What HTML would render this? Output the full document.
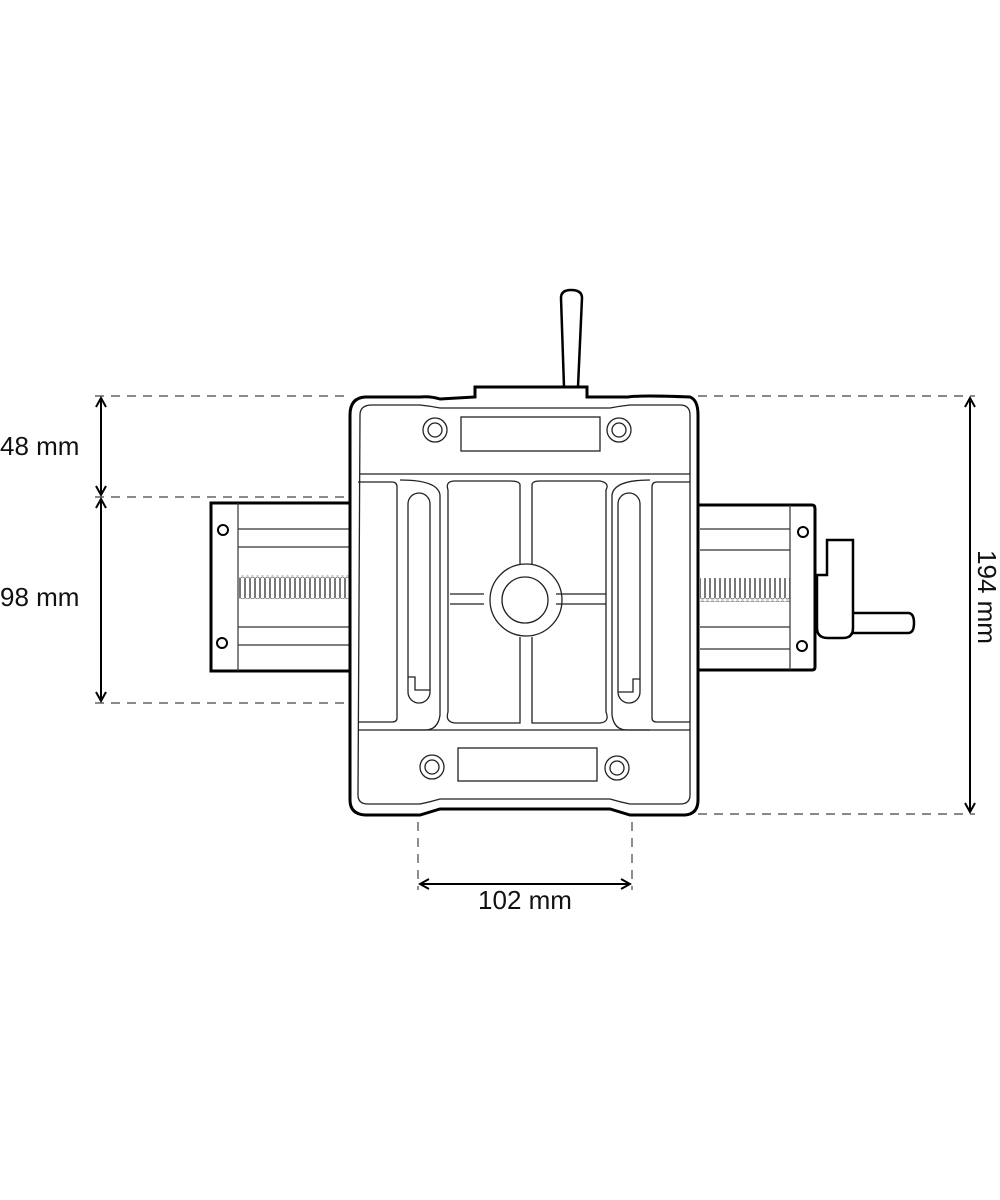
<!DOCTYPE html>
<html><head><style>
html,body{margin:0;padding:0;background:#fff;}
svg{display:block;}
text{font-family:"Liberation Sans",sans-serif;font-size:26px;fill:#111;}
</style></head><body>
<svg width="1000" height="1200" viewBox="0 0 1000 1200" xmlns="http://www.w3.org/2000/svg">
<defs>
<marker id="a" markerWidth="12" markerHeight="12" refX="10" refY="6" orient="auto-start-reverse" markerUnits="userSpaceOnUse">
<path d="M1,1 L10,6 L1,11" fill="none" stroke="#000" stroke-width="2"/>
</marker>
<pattern id="scr" width="5" height="24" patternUnits="userSpaceOnUse">
<rect x="0.5" y="1" width="4" height="22" rx="2" fill="none" stroke="#555" stroke-width="0.8"/>
</pattern>
</defs>
<g fill="none" stroke="#444" stroke-width="1.2" stroke-dasharray="9,7">
<line x1="95" y1="396" x2="350" y2="396"/><line x1="698" y1="396" x2="975" y2="396"/>
<line x1="95" y1="497" x2="420" y2="497"/>
<line x1="95" y1="703" x2="420" y2="703"/>
<line x1="698" y1="814" x2="975" y2="814"/>
<line x1="418" y1="598" x2="418" y2="890"/><line x1="632" y1="598" x2="632" y2="890"/>
</g>
<g stroke="#000" stroke-width="2" fill="none">
<line x1="101" y1="398" x2="101" y2="495" marker-start="url(#a)" marker-end="url(#a)"/>
<line x1="101" y1="499" x2="101" y2="701" marker-start="url(#a)" marker-end="url(#a)"/>
<line x1="970" y1="398" x2="970" y2="812" marker-start="url(#a)" marker-end="url(#a)"/>
<line x1="420" y1="884" x2="630" y2="884" marker-start="url(#a)" marker-end="url(#a)"/>
</g>
<g fill="none" stroke="#000">
<rect x="211" y="503" width="140" height="168" fill="#fff" stroke-width="3"/>
<g stroke-width="1.2" stroke="#333">
<line x1="238" y1="503" x2="238" y2="671"/>
<line x1="238" y1="529" x2="351" y2="529"/><line x1="238" y1="547" x2="351" y2="547"/>
<line x1="238" y1="627" x2="351" y2="627"/><line x1="238" y1="645" x2="351" y2="645"/>
</g>
<rect x="239" y="575" width="112" height="24" fill="url(#scr)" stroke="none"/>
<circle cx="223" cy="530" r="5" stroke-width="2"/><circle cx="222" cy="643" r="5" stroke-width="2"/>
</g>
<g fill="none" stroke="#000">
<path d="M696 505 H812 Q815 505 815 509 V667 Q815 670 812 670 H696 Z" fill="#fff" stroke-width="3"/>
<g stroke-width="1.2" stroke="#333">
<line x1="790" y1="505" x2="790" y2="670"/>
<line x1="700" y1="529" x2="790" y2="529"/><line x1="700" y1="550" x2="790" y2="550"/>
<line x1="700" y1="627" x2="790" y2="627"/><line x1="700" y1="649" x2="790" y2="649"/>
</g>
<rect x="700" y="578" width="90" height="24" fill="url(#scr)" stroke="none"/>
<circle cx="803" cy="532" r="5" stroke-width="2"/><circle cx="802" cy="646" r="5" stroke-width="2"/>
<path d="M853 613 H908 Q914 613 914 623 Q914 633 908 633 H853" stroke-width="2.5" fill="#fff"/>
<path d="M817 575 H827 V540 H853 V628 Q853 638 843 638 H828 Q817 638 817 628 Z" stroke-width="2.5" fill="#fff"/>
</g>
<path d="M564 387 L561 298 Q561 290 571 290 Q582 290 582 298 L578 387" fill="#fff" stroke="#000" stroke-width="2.5"/>
<path d="M475 397 V387 H587 V397 H628 Q640 395 690 397 Q698 400 698 415 V800 Q698 814 685 815 H630 Q620 812 610 809 H440 Q430 812 420 815 H365 Q350 814 350 800 V415 Q350 398 365 397 H420 Q430 396 440 399 Z" fill="#fff" stroke="#000" stroke-width="3"/>
<g fill="none" stroke="#222" stroke-width="1.3">
<path d="M360 415 Q360 405 372 405 H420 Q430 406 440 408 H610 Q620 406 630 405 H680 Q690 405 690 415 V795 Q690 804 680 804 H630 Q620 802 610 799 H440 Q430 802 420 804 H368 Q358 804 358 795 Z"/>
<line x1="360" y1="474" x2="690" y2="474"/>
<line x1="358" y1="730" x2="690" y2="730"/>
<rect x="461" y="417" width="139" height="34"/>
<rect x="458" y="748" width="139" height="33"/>
<circle cx="435" cy="430" r="12"/><circle cx="435" cy="430" r="7"/>
<circle cx="619" cy="430" r="12"/><circle cx="619" cy="430" r="7"/>
<circle cx="432" cy="767" r="12"/><circle cx="432" cy="767" r="7"/>
<circle cx="617" cy="768" r="12"/><circle cx="617" cy="768" r="7"/>
<path d="M358 482 H392 Q397 482 397 487 V718 Q397 722 392 722 H358"/>
<path d="M690 482 H657 Q652 482 652 487 V718 Q652 722 657 722 H690"/>
<path d="M400 480 Q438 480 440 495 V715 Q438 730 425 730 H400"/>
<path d="M650 480 Q614 480 612 495 V715 Q614 730 627 730 H650"/>
<rect x="408" y="493" width="22" height="210" rx="11"/>
<rect x="618" y="493" width="22" height="210" rx="11"/>
<path d="M408 677 H415 V690 H430"/><path d="M640 679 H633 V692 H618"/>
<path d="M455 481 H510 Q520 481 520 485 V565 M532 565 V485 Q532 481 540 481 H600 Q610 483 606 490 V712 Q610 722 600 723 H532 V637 M520 637 V723 H455 Q445 722 448 712 V490 Q445 481 455 481"/>
<line x1="450" y1="594" x2="484" y2="594"/><line x1="450" y1="604" x2="484" y2="604"/>
<line x1="556" y1="594" x2="606" y2="594"/><line x1="556" y1="604" x2="606" y2="604"/>
<circle cx="526" cy="600" r="36"/>
<circle cx="525" cy="600" r="23"/>
</g>
<text x="0" y="455">48 mm</text>
<text x="0" y="606">98 mm</text>
<text x="525" y="909" text-anchor="middle">102 mm</text>
<text x="0" y="0" text-anchor="middle" transform="translate(978,597) rotate(90)">194 mm</text>
</svg>
</body></html>
